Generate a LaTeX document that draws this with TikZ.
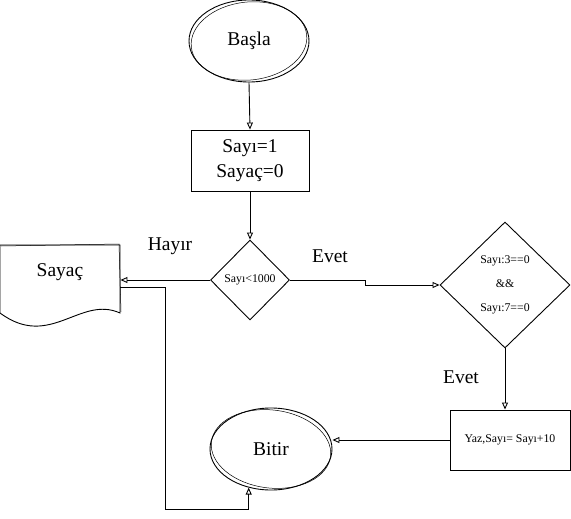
\documentclass[tikz,border=0pt]{standalone}
\usepackage{fontspec}
\setmainfont{Liberation Serif}
\usetikzlibrary{shapes.geometric,arrows.meta}
\begin{document}
\begin{tikzpicture}[x=1pt,y=-1pt,
  line width=0.9pt,
  big/.style={font=\fontsize{19.5}{25}\selectfont},
  small/.style={font=\fontsize{11.8}{14}\selectfont},
  term/.style={draw, ellipse, minimum width=120pt, minimum height=82pt, inner sep=0pt, big},
  proc/.style={draw, rectangle, inner sep=0pt, align=center},
  dec/.style={draw, diamond, aspect=1, inner sep=0pt, small, align=center},
  arr/.style={-{Triangle[open,length=7pt,width=6pt]}},
  lbl/.style={big, inner sep=0pt},
  rough/.style={line width=0.5pt}]
\useasboundingbox (0,0) rectangle (571,519);

% nodes
\node[term] (basla) at (249,41) {Başla};
\draw[rough] (basla.center) ellipse [x radius=58, y radius=39, rotate=6];
\node[proc, big, minimum width=118pt, minimum height=61pt] (init) at (250,160.5) {Sayı=1\\Sayaç=0};
\node[dec, minimum width=79pt, minimum height=80pt] (d1) at (250,280) {Sayı<1000};
\node[dec, minimum width=130pt, minimum height=126pt] (d2) at (505,285) {Sayı:3==0\\[10pt]\&\&\\[10pt]Sayı:7==0};
\node[big, inner sep=0pt, minimum width=120pt, minimum height=60pt] (doc) at (60,272) {Sayaç};
\draw (0,245) -- (120,245) -- (120,313) .. controls (80,295) and (50,350) .. (0,313) -- cycle;
\draw[rough] (1,246) -- (119,244) -- (121,312);
\node[term, minimum width=122pt] (bitir) at (271,449) {Bitir};
\draw[rough] (bitir.center) ellipse [x radius=60, y radius=39, rotate=-7];
\node[proc, small, minimum width=120pt, minimum height=60pt] (yaz) at (510,440) {Yaz,Sayı= Sayı+10};

% labels
\node[lbl] (hayir) at (170,246) {Hayır};
\node[lbl] (evet1) at (330,256) {Evet};
\node[lbl] (evet2) at (461,377) {Evet};

% connectors
\draw[arr] (basla.south) -- (init.north);
\draw[arr] (init.south) -- (d1.north);
\coordinate (s1) at (365,280);
\draw[arr] (d1.east) -- (s1) |- (d2.west);
\draw[arr] (d1.west) -- (d1.west -| doc.east);
\coordinate (dout) at (120,287);
\coordinate (c1) at (165,509);
\draw[arr] (dout) -| (c1) -| (bitir.240);
\draw[arr] (d2.south) -- (d2.south |- yaz.north);
\draw[arr] (yaz.west) -- (yaz.west -| bitir.east);
\end{tikzpicture}
\end{document}
